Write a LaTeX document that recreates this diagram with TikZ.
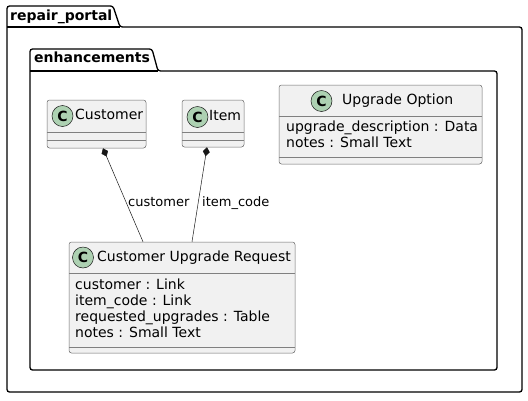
\documentclass[tikz,border=0pt]{standalone}
\usepackage{fontspec}
\setmainfont{DejaVu Sans}
\usetikzlibrary{arrows.meta,calc}
\definecolor{boxfill}{HTML}{F1F1F1}
\definecolor{boxline}{HTML}{181818}
\definecolor{spotfill}{HTML}{ADD1B2}
\tikzset{
  pkg/.style={draw=black, line width=1.3pt, rounded corners=2.5pt},
  pkgname/.style={anchor=west, inner sep=0pt, text height=10.5pt, text depth=3pt, font=\bfseries\fontsize{14}{14}\selectfont},
  classbox/.style={draw=boxline!65, fill=boxfill, line width=.5pt, rounded corners=2.5pt, inner sep=0pt},
  sep/.style={draw=boxline!55, line width=.45pt},
  spot/.style={circle, draw=boxline, fill=spotfill, line width=.5pt, minimum size=21pt, inner sep=0pt, font=\bfseries\fontsize{14}{14}\selectfont},
  cname/.style={anchor=west, inner sep=0pt, text height=10.5pt, text depth=3pt, font=\fontsize{14}{14}\selectfont},
  attr/.style={anchor=west, inner sep=0pt, text height=10.5pt, text depth=3pt, font=\fontsize{14}{14}\selectfont},
  role/.style={anchor=west, inner sep=0pt, text height=9.5pt, text depth=3pt, font=\fontsize{13}{13}\selectfont},
  comp/.style={draw=boxline, line width=.5pt, {Diamond[length=9pt,width=7pt]}-}
}
\begin{document}
\begin{tikzpicture}[x=1pt,y=-1pt]
  \useasboundingbox (0,0) rectangle (528,400);
  % packages
  \draw[pkg] (7,27) -- (7,6) -- (113,6) -- (120,27) -- (522,27) -- (522,392) -- (7,392) -- cycle;
  \draw[pkg] (7,27) -- (120,27);
  \node[pkgname] (portal) at (10,17) {repair\_portal};
  \draw[pkg] (30,71) -- (30,49) -- (152,49) -- (158,71) -- (497,71) -- (497,370) -- (30,370) -- cycle;
  \draw[pkg] (30,71) -- (158,71);
  \node[pkgname] (enh) at (34,59) {enhancements};
  % classes
  \node[classbox, minimum width=99pt, minimum height=48pt] (cust) at (96.5,124) {};
  \node[classbox, minimum width=62pt, minimum height=47pt] (item) at (213,123.5) {};
  \node[classbox, minimum width=226pt, minimum height=111pt] (req) at (182,297.5) {};
  \node[classbox, minimum width=203pt, minimum height=79pt] (opt) at (380.5,124.5) {};
  \foreach \c/\h/\m in {cust/32/40, item/32/40, req/31/105, opt/31/72}
  {
    \draw[sep] ($(\c.north west)+(0,\h)$) -- ($(\c.north east)+(0,\h)$);
    \draw[sep] ($(\c.north west)+(0,\m)$) -- ($(\c.north east)+(0,\m)$);
  }
  \node[spot] (custC) at (62.5,116) {C};
  \node[cname] (custN) at (75,116) {Customer};
  \node[spot] (itemC) at (197.5,117) {C};
  \node[cname] (itemN) at (209,117) {Item};
  \node[spot] (reqC) at (83,257.5) {C};
  \node[cname] (reqN) at (97,257.5) {Customer Upgrade Request};
  \node[spot] (optC) at (321.5,101) {C};
  \node[cname] (optN) at (342,101) {Upgrade Option};
  % attributes
  \node[attr] (reqA) at (75,286) {customer : Link};
  \node[attr] (reqB) at (75,302) {item\_code : Link};
  \node[attr] (reqD) at (75,318) {requested\_upgrades : Table};
  \node[attr] (reqE) at (75,333.5) {notes : Small Text};
  \node[attr] (optA) at (286,128) {upgrade\_description : Data};
  \node[attr] (optB) at (286,143.5) {notes : Small Text};
  % compositions
  \draw[comp] ([xshift=6.5pt]cust.south) -- ([xshift=-39pt]req.north);
  \draw[comp] ([xshift=-6pt]item.south) -- ([xshift=10pt]req.north);
  \node[role] (custR) at (128,203) {customer};
  \node[role] (itemR) at (202,203) {item\_code};
\end{tikzpicture}
\end{document}
